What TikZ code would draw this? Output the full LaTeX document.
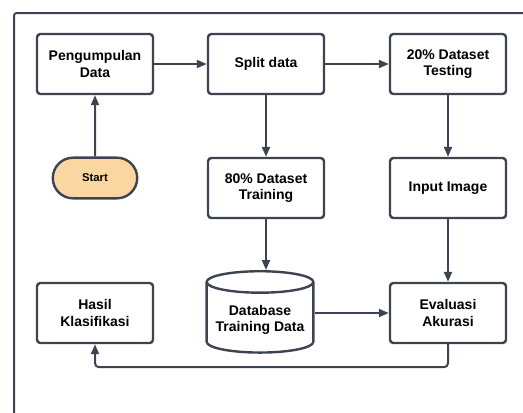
\documentclass[tikz,border=0pt]{standalone}
\usepackage{fontspec}
\setmainfont{Liberation Sans}
\usetikzlibrary{arrows.meta, positioning, shapes.geometric, shapes.misc}
\definecolor{flowline}{HTML}{3D4450}
\definecolor{startfill}{HTML}{FAD7A0}

\begin{document}
\begin{tikzpicture}[
    x=0.75pt, y=-0.75pt,
    font=\fontsize{10.5}{12.5}\selectfont\bfseries,
    procbox/.style={draw=flowline, line width=1.8pt, rounded corners=2.5pt,
                    fill=white, minimum width=87pt, minimum height=45pt,
                    align=center, inner sep=2pt},
    startnode/.style={draw=flowline, line width=1.8pt, rounded rectangle,
                      fill=startfill, minimum width=70pt, minimum height=30.5pt,
                      font=\fontsize{8.5}{10}\selectfont\bfseries},
    dbnode/.style={draw=flowline, line width=1.8pt, cylinder,
                   shape border rotate=90, aspect=0.22, fill=white,
                   minimum width=80pt, minimum height=61pt, align=center},
    flow/.style={flowline, line width=1.5pt,
                 -{Triangle[length=7.5pt, width=6pt]}},
  ]
    \path[use as bounding box, clip] (0,0) rectangle (523,412);
    % outer frame, cut off at the right and bottom
    \draw[flowline, line width=1.5pt, rounded corners=2pt]
      (14,13) rectangle (540,430);

    % top row
    \node[procbox] (collect) at (95,64)  {Pengumpulan\\Data};
    \node[procbox] (split)   at (266,64) {Split data};
    \node[procbox] (testing) at (448,64) {20\% Dataset\\Testing};

    % middle row
    \node[startnode] (start)    at (95,178)  {Start};
    \node[procbox]   (training) at (266,188) {80\% Dataset\\Training};
    \node[procbox]   (input)    at (448,188) {Input Image};

    % bottom row
    \node[procbox] (result) at (95,313)  {Hasil\\Klasifikasi};
    \node[dbnode]  (db)     at (260,320) {Database\\Training Data};
    \node[procbox] (eval)   at (448,313) {Evaluasi\\Akurasi};

    \draw[flow] (start) -- (collect);
    \draw[flow] (collect) -- (split);
    \draw[flow] (split) -- (testing);
    \draw[flow] (split) -- (training);
    \draw[flow] (training) -- (training |- db.top);
    \draw[flow] (testing) -- (input);
    \draw[flow] (input) -- (eval);
    \draw[flow] (db.east |- eval) -- (eval);
    \draw[flow, rounded corners=3pt] (eval.south) -- ++(0,23) -| (result.south);
  \end{tikzpicture}
\end{document}
